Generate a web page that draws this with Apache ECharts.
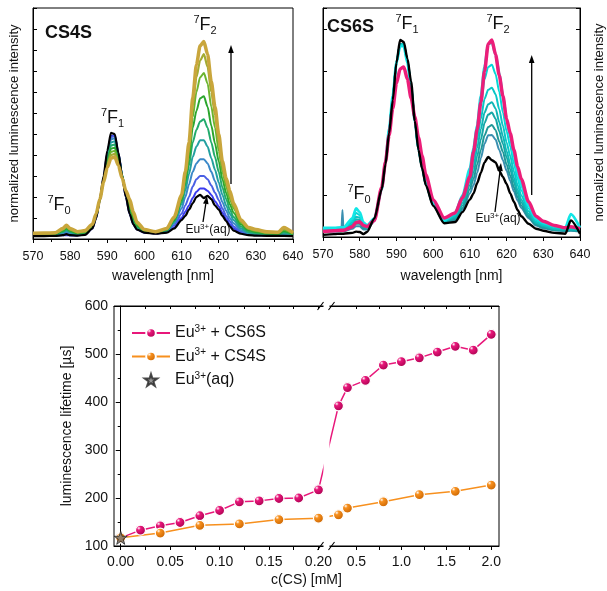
<!DOCTYPE html>
<html><head><meta charset="utf-8">
<script src="https://cdn.jsdelivr.net/npm/echarts@6/dist/echarts.min.js"></script>
<style>html,body{margin:0;padding:0;background:#fff}#c{width:607px;height:591px}</style>
</head><body><div id="c"></div>
<script>
// ---------- CS4S spectra (wavelength nm, intensity a.u.) ----------
const wl4 = [570,573,576,578,579,580,582,584,586,587,588,589,590,591,592,593,594,595,596,597,598,600,603,606,608,610,611,612,613,614,615,616,617,618,619,620,621,622,623,624,626,628,630,633,636,637.5,640];
const cs4sAq = [1.4,1.4,1.5,1.8,2.3, 1.8,1.6,2.0,5,10, 19,30,42,50.5,50, 41,30,20,12,7, 4.5,3,2.5,3,5, 9,11,14,17,20, 21,19.5,20.5,19,16, 14,11,8.5,6,4, 2.5,1.8,1.6,1.5,1.5, 1.5,1.4];
const cs4s1 = [1.6,1.6,1.7,1.8,1.8, 1.7,1.7,2.1,5,10, 18,29,41,49,49.5, 41,30,20,12,7, 4.5,3,2.6,3.2,5.5, 10,13,16,19.5,22.5, 24,24,23,21,18, 15.5,12.5,9.5,7,5, 3,2,1.8,1.6,1.6, 1.6,1.5];
const cs4s2 = [1.7,1.7,1.8,2.2,2.6, 2.2,1.9,2.3,5.2,10.5, 18.5,29,41,48.5,49, 41,30.5,20.5,12.5,7.5, 4.8,3.1,2.7,3.5,6.5, 12,16,20,25,28.5, 30,30,28.5,25.5,22, 18.5,14.5,11,8.5,6, 3.5,2.3,2,1.8,1.7, 1.8,1.7];
const cs4s3 = [1.9,1.9,2,2.7,3.3, 2.7,2.1,2.5,5.5,10.5, 18.5,28.5,40,47.5,48, 40.5,30.5,21,13,8, 5,3.2,2.8,3.8,7.5, 14.5,20,26,32,36, 38,38,36,32,27.5, 22.5,17.5,13.5,10,7.5, 4.2,2.6,2.2,1.9,1.8, 2.2,1.8];
const cs4s4 = [2,2,2.1,3.1,4, 3.1,2.3,2.7,5.7,10.8, 18.5,28,38.5,46,46.5, 40,30.5,21.5,14,8.5, 5.3,3.4,2.9,4,8, 16.5,23,31,39,44, 47,47,44,38.5,33, 27,21,16,12,9, 5,3,2.5,2,1.9, 2.6,1.9];
const cs4s5 = [2.2,2.2,2.3,3.5,4.6, 3.5,2.5,2.9,6,11, 18.5,27.5,37.5,44.5,45, 39,30.5,22,15,9.5, 5.8,3.6,3,4.2,8.5, 17.5,25.5,35,46,52, 56,57,53,46,39, 32,24.5,19,14,10.5, 6,3.5,2.8,2.3,2.1, 3.2,2.1];
const cs4s6 = [2.3,2.4,2.5,3.9,5.1, 3.9,2.8,3.1,6.2,11.2, 18.5,27.5,36.5,43,43.5, 38,30,22,15.5,10, 6.3,3.8,3.1,4.4,9, 18.5,27.5,38,53,61, 67,68,63,54,45.5, 37,28.5,22,16.5,12.5, 7,4.2,3.3,2.6,2.4, 3.8,2.3];
const cs4s7 = [2.4,2.5,2.7,4.3,5.6, 4.3,3,3.4,6.5,11.5, 18.7,27.2,35.5,41.5,42, 37,29.7,22.5,16.5,11, 7,4,3.2,4.6,9.5, 19.5,29.5,41,58,70, 77,79,74,63,53, 42,32,25,19,14.5, 7.8,4.8,3.8,2.9,2.7, 4.4,2.5];
const cs4s8 = [2.6,2.7,2.9,4.7,6.1, 4.7,3.3,3.7,6.8,11.8, 18.8,27,34.8,40,40.5, 36,29.3,22.8,17.8,12.2, 7.5,4.3,3.4,4.8,10, 20.3,31,44,63,77, 85,88,82,70,59, 46,34.5,27,21,15.8, 8.4,5.2,4.2,3.2,3, 5,2.8];
const cs4sEnd = [2.7,2.8,3,5,6.5, 5,3.5,4,7,12, 19,27,34,38.5,39, 35,29,23,19,13, 8,4.5,3.5,5,10.5, 21,32,46,67,83, 92,94,88,75,63, 50,37,29,23,17, 9,5.5,4.5,3.4,3.2, 5.5,3];

// ---------- CS6S spectra ----------
const wl6 = [570,573,575,575.3,575.6,578,579,580,581,582,584,586,587,588,589,590,591,592,593,594,595,596,597,598,600,603,606,608,610,611,612,613,614,615,616,617,618,619,620,621,622,623,624,626,628,630,633,636,637.5,640];
const cs6sAq = [0.5,0.7,0.8,0.8,0.8,1.0,1.3,1.2,0.7,1.2, 4.5,11.5,17.5,25,33,42,47.5,47,43,37.5, 28,21,16.5,12.5,7.5,3.3,3.6,6,9,10.5, 13,15.5,18,19.3,18.5,18,16,14.5,12.8,10.5, 8.5,6.5,5,3.2,2,1.5,1.0,0.8,4,0.8];
const cs6s1 = [1.2,1.3,1.4,6.5,1.4,2.0,2.6,2.6,1.8,1.8, 3.8,11.5,17.8,25.5,33.5,42,46.5,46.5,42.5,36.5, 28,21,16.5,12.5,7.6,3.5,4,6.5,10.5,12.5, 15.5,19,22.5,24.5,24.6,23.5,21,18.5,16,13.5, 11,8.8,7,4.5,2.8,2.1,1.6,1.4,1.5,1.3];
const cs6s2 = [1.4,1.4,1.5,1.5,1.5,2.4,3.2,3.2,2.1,2.0, 4.0,11.5,17.8,25.5,33.5,42,46.5,46.5,42.5,36.5, 28,21,16.5,12.6,7.7,3.6,4.3,7,11.5,14, 17.5,21,24.5,26.5,27,25.8,23,20.5,17.5,14.8, 12,9.6,7.6,4.8,3,2.3,1.7,1.5,1.6,1.4];
const cs6s3 = [1.5,1.5,1.6,1.6,1.6,2.8,3.8,3.7,2.4,2.1, 4.1,11.5,17.8,25.6,33.6,42,46.5,46.5,42.5,36.3, 28,21.2,16.7,12.7,7.8,3.7,4.6,7.6,12.5,15.5, 19.5,23.5,27.5,29.5,30,28.5,25.5,22.5,19.2,16.3, 13.2,10.5,8.3,5.2,3.2,2.5,1.8,1.6,1.7,1.5];
const cs6s4 = [1.6,1.6,1.7,1.7,1.7,3.1,4.3,4.2,2.7,2.2, 4.2,11.5,17.9,25.7,33.7,42,46.5,46.4,42.4,36.2, 28,21.3,16.8,12.8,7.9,3.8,4.9,8.2,13.3,17, 21.5,26,30,32,32.5,31,27.7,24.3,20.7,17.6, 14.3,11.3,9,5.6,3.4,2.7,1.9,1.7,1.8,1.6];
const cs6s5 = [1.8,1.8,1.9,1.9,1.9,3.5,4.9,4.7,3.0,2.4, 4.3,11.5,18,25.8,33.8,42,46.3,46.3,42.3,36.1, 28,21.3,16.8,12.9,7.9,3.9,5.2,8.8,14.5,18.7, 23.5,28.5,33.3,35.5,36,34.4,30.8,26.8,22.8,19.5, 15.8,12.5,10,6.2,3.7,2.9,2.1,1.9,2.0,1.8];
const cs6s6 = [2.0,2.0,2.1,2.1,2.1,4.0,5.8,5.3,3.2,2.6, 4.4,11.5,18,26,34,42,46.2,46.2,42.2,36, 28,21.4,16.9,13,8,4,5.5,9.4,15.7,20.5, 26,31.5,38,41,41.5,39.3,35,30,25.5,21.8, 17.7,14,11.2,6.9,4.1,3.2,2.4,2.1,2.2,2.0];
const cs6s7 = [2.2,2.2,2.3,2.3,2.3,4.5,6.9,6,3.5,2.8, 4.5,11.5,18,26,34,42,46,46,42,36, 28,21.5,17,13,8,4.1,5.8,10,16.5,21.5, 27,34,41,46.5,47,44,39.5,34,28.5,24, 19.5,15.5,12.5,7.5,4.5,3.5,2.6,2.3,5.5,2.2];
const cs6sEnd = [1.3,1.5,1.6,1.6,1.6,2.5,3.5,3.7,2.8,2.5, 4,12,18,24.5,31,37,40.5,41,38,33.5, 29,24,19.5,15,9,4.6,5.8,9.5,14.5,20.5, 26,32.5,40,46.5,47.5,44,39,34,28.5,25, 21,17,14,8.5,5,3.8,2.8,2.2,2.5,2];

// ---------- luminescence lifetimes ----------
const concCS6S = [0,0.02,0.04,0.06,0.08,0.10,0.12,0.14,0.16,0.18,0.20,0.3,0.4,0.6,0.8,1.0,1.2,1.4,1.6,1.8,2.0];
const lifeCS6S = [117,133,142,149,163,174,192,194,199,200,217,392,430,445,477,484,492,504,516,508,541];
const concCS4S = [0,0.04,0.08,0.12,0.16,0.20,0.3,0.4,0.8,1.2,1.6,2.0];
const lifeCS4S = [117,127,143,146,155,158,165,179,192,207,214,227];
const concAq = [0];
const lifeAq = [117];

// tick labels of the broken concentration axis
const xMajorLeft = [0,0.05,0.10,0.15,0.20];
const xMajorRight = [0.5,1.0,1.5,2.0];
const xMinorLeft = [0.025,0.075,0.125,0.175];
const xMinorRight = [0.75,1.25,1.75];
const yTicksLife = [100,200,300,400,500,600];

// ---------- helpers ----------
const FONT = '"Liberation Sans", Arial, Helvetica, sans-serif';
const PINK = '#e8177a', ORANGE = '#f7901e';
const BREAK_AT = 0.2, RIGHT_T0 = 0.2384, RIGHT_X0 = 0.5, RIGHT_K = 0.0909;
function toAxis(x){ return x <= BREAK_AT + 1e-9 ? x : RIGHT_T0 + (x - RIGHT_X0) * RIGHT_K; }
const labelMap = {};
xMajorLeft.forEach(v => labelMap[toAxis(v).toFixed(5)] = v.toFixed(2));
xMajorRight.forEach(v => labelMap[toAxis(v).toFixed(5)] = v.toFixed(1));
const majorT = xMajorLeft.concat(xMajorRight).map(toAxis);
const allT = majorT.concat(xMinorLeft.map(toAxis), xMinorRight.map(toAxis));

function pairs(xs, ys){ return xs.map((x,i)=>[x, ys[i]]); }
function spec(name, xs, ys, color, w, xi, yi, z){
  return {name, type:'line', xAxisIndex:xi, yAxisIndex:yi, data:pairs(xs,ys), showSymbol:false, symbol:'none',
    smooth:0.25, smoothMonotone:'x', lineStyle:{color, width:w}, silent:true, z:z||2};
}
function ball(c, dark){
  return new echarts.graphic.RadialGradient(0.35,0.32,0.7,[{offset:0,color:'#ffffff'},{offset:0.25,color:c},{offset:1,color:dark}]);
}
const richLbl = {
  s:{fontSize:11, fontFamily:FONT, fill:'#111', verticalAlign:'top', lineHeight:11},
  m:{fontSize:18, fontFamily:FONT, fill:'#111', lineHeight:22},
  b:{fontSize:11, fontFamily:FONT, fill:'#111', verticalAlign:'bottom', lineHeight:11}
};
function level(n, x, y){
  return {type:'text', x, y, z:20, style:{text:'{s|7}{m|F}{b|'+n+'}', rich:richLbl, fontSize:18, lineHeight:22, fontFamily:FONT, fill:'#111',
    align:'center', textAlign:'center', verticalAlign:'middle', textVerticalAlign:'middle'}};
}
function euAq(x, y){
  return {type:'text', x, y, z:20, style:{text:'Eu{s|3+}(aq)', fontSize:12, lineHeight:14, fontFamily:FONT, fill:'#111',
    rich:{s:{fontSize:8, fontFamily:FONT, fill:'#111', verticalAlign:'top', lineHeight:8}},
    align:'center', textAlign:'center', verticalAlign:'middle', textVerticalAlign:'middle'}};
}
function bold(t, x, y){
  return {type:'text', x, y, z:20, style:{text:t, fontSize:18, fontWeight:'bold', fontFamily:FONT, fill:'#111',
    align:'left', textAlign:'left', verticalAlign:'middle', textVerticalAlign:'middle'}};
}
function arrow(x1,y1,x2,y2){
  const dx=x2-x1, dy=y2-y1, L=Math.hypot(dx,dy), ux=dx/L, uy=dy/L, h=8, w=2.8;
  const bx=x2-ux*h, by=y2-uy*h;
  return [
    {type:'line', z:20, shape:{x1, y1, x2:bx, y2:by}, style:{stroke:'#000', lineWidth:1.3}},
    {type:'polygon', z:20, shape:{points:[[x2,y2],[bx-uy*w, by+ux*w],[bx+uy*w, by-ux*w]]}, style:{fill:'#000'}}
  ];
}
const STAR = 'path://M50,2 L61,36 L97,36 L68,57 L79,92 L50,71 L21,92 L32,57 L3,36 L39,36 Z';

const axisText = {color:'#111', fontFamily:FONT};
const lineBlack = {lineStyle:{color:'#000', width:1}};

const chart = echarts.init(document.getElementById('c'), null, {renderer:'canvas'});
chart.setOption({
  animation:false,
  backgroundColor:'#fff',
  textStyle:{fontFamily:FONT},
  grid:[
    {left:33, top:8, width:260, height:231, show:true, borderColor:'#000', borderWidth:1, backgroundColor:'transparent'},
    {left:323, top:8, width:261, height:229, show:true, borderColor:'#000', borderWidth:1, backgroundColor:'transparent'},
    {left:114, top:306, width:385, height:240, show:true, borderColor:'#000', borderWidth:1, backgroundColor:'transparent'}
  ],
  xAxis:[
    {gridIndex:0, type:'value', min:570, max:640, interval:10, axisLine:lineBlack,
     axisTick:{inside:false, length:4, lineStyle:{color:'#000'}}, minorTick:{show:true, splitNumber:2, length:3, lineStyle:{color:'#000'}},
     splitLine:{show:false}, axisLabel:Object.assign({fontSize:12.5, margin:11}, axisText),
     name:'wavelength [nm]', nameLocation:'middle', nameGap:30, nameTextStyle:Object.assign({fontSize:14}, axisText)},
    {gridIndex:1, type:'value', min:570, max:640, interval:10, axisLine:lineBlack,
     axisTick:{inside:false, length:4, lineStyle:{color:'#000'}}, minorTick:{show:true, splitNumber:2, length:3, lineStyle:{color:'#000'}},
     splitLine:{show:false}, axisLabel:Object.assign({fontSize:12.5, margin:11}, axisText),
     name:'wavelength [nm]', nameLocation:'middle', nameGap:32, nameTextStyle:Object.assign({fontSize:14}, axisText)},
    {gridIndex:2, type:'value', min:-0.0068, max:0.3826, position:'bottom', axisLine:lineBlack,
     axisTick:{inside:false, length:4, customValues:allT, lineStyle:{color:'#000'}},
     splitLine:{show:false},
     axisLabel:Object.assign({fontSize:14, margin:9, customValues:majorT, formatter:v => labelMap[Number(v).toFixed(5)] || ''}, axisText),
     name:'c(CS) [mM]', nameLocation:'middle', nameGap:27, nameTextStyle:Object.assign({fontSize:14}, axisText)},
    {gridIndex:2, type:'value', min:-0.0068, max:0.3826, position:'top', axisLine:lineBlack,
     axisTick:{inside:true, length:3, customValues:allT, lineStyle:{color:'#000'}},
     splitLine:{show:false}, axisLabel:{show:false}}
  ],
  yAxis:[
    {gridIndex:0, type:'value', min:0, max:110, interval:10, axisLine:lineBlack,
     axisTick:{inside:true, length:4, lineStyle:{color:'#000'}}, splitLine:{show:false}, axisLabel:{show:false},
     name:'normalized luminescence intensity', nameLocation:'middle', nameGap:12, nameRotate:90, nameTextStyle:Object.assign({fontSize:13}, axisText)},
    {gridIndex:1, type:'value', min:0, max:55.2, interval:10, position:'left', axisLine:lineBlack,
     axisTick:{inside:true, length:4, lineStyle:{color:'#000'}}, splitLine:{show:false}, axisLabel:{show:false}},
    {gridIndex:1, type:'value', min:0, max:55.2, interval:10, position:'right', axisLine:lineBlack,
     axisTick:{inside:true, length:4, lineStyle:{color:'#000'}}, splitLine:{show:false}, axisLabel:{show:false},
     name:'normalized luminescence intensity', nameLocation:'middle', nameGap:13, nameRotate:90, nameTextStyle:Object.assign({fontSize:13}, axisText)},
    {gridIndex:2, type:'value', min:100, max:600, interval:100, axisLine:lineBlack,
     axisTick:{inside:false, length:5, lineStyle:{color:'#000'}}, minorTick:{show:true, splitNumber:2, length:3, lineStyle:{color:'#000'}},
     splitLine:{show:false}, axisLabel:Object.assign({fontSize:14, margin:6}, axisText),
     name:'luminescence lifetime [µs]', nameLocation:'middle', nameGap:34, nameRotate:90, nameTextStyle:Object.assign({fontSize:14}, axisText)}
  ],
  legend:{
    data:['CS6S','CS4S','aq'], orient:'vertical', left:126, top:319, itemWidth:38, itemHeight:12, itemGap:5.5,
    selectedMode:false,
    formatter: n => n === 'aq' ? 'Eu{sup|3+}(aq)' : 'Eu{sup|3+} + ' + n,
    textStyle:{fontSize:16, lineHeight:18, color:'#111', fontFamily:FONT,
      rich:{sup:{fontSize:10, lineHeight:10, verticalAlign:'top', color:'#111', fontFamily:FONT}}}
  },
  series:[
    spec('s4_1', wl4, cs4s1, '#3b3bef', 2, 0, 0),
    spec('s4_2', wl4, cs4s2, '#4a5fe4', 2, 0, 0),
    spec('s4_3', wl4, cs4s3, '#3a88c8', 2, 0, 0),
    spec('s4_4', wl4, cs4s4, '#23a0a0', 2, 0, 0),
    spec('s4_5', wl4, cs4s5, '#22ab6c', 2, 0, 0),
    spec('s4_6', wl4, cs4s6, '#2ca62e', 2, 0, 0),
    spec('s4_7', wl4, cs4s7, '#6cb42f', 2, 0, 0),
    spec('s4_8', wl4, cs4s8, '#a3ab32', 2.2, 0, 0),
    spec('s4_aq', wl4, cs4sAq, '#000000', 2.2, 0, 0),
    spec('s4_end', wl4, cs4sEnd, '#c9a63c', 3.5, 0, 0),

    spec('s6_1', wl6, cs6s1, '#3a8fb0', 2, 1, 1),
    spec('s6_2', wl6, cs6s2, '#1f9797', 2, 1, 1),
    spec('s6_3', wl6, cs6s3, '#16a6a6', 2, 1, 1),
    spec('s6_4', wl6, cs6s4, '#10b5b5', 2, 1, 1),
    spec('s6_5', wl6, cs6s5, '#0ac6c6', 2, 1, 1),
    spec('s6_6', wl6, cs6s6, '#05d6d6', 2, 1, 1),
    spec('s6_7', wl6, cs6s7, '#12e6e6', 2.8, 1, 1),
    spec('s6_end', wl6, cs6sEnd, '#ec1e79', 3.5, 1, 1),
    spec('s6_aq', wl6, cs6sAq, '#000000', 2.4, 1, 1),

    {name:'CS6S', type:'line', xAxisIndex:2, yAxisIndex:3, data:pairs(concCS6S.map(toAxis), lifeCS6S),
     symbol:'circle', symbolSize:10, lineStyle:{color:PINK, width:1.5},
     itemStyle:{color:ball(PINK,'#a8004f'), borderColor:'#fff', borderWidth:1.2}, z:3},
    {name:'CS4S', type:'line', xAxisIndex:2, yAxisIndex:3, data:pairs(concCS4S.map(toAxis), lifeCS4S),
     symbol:'circle', symbolSize:10, lineStyle:{color:ORANGE, width:1.5},
     itemStyle:{color:ball(ORANGE,'#c96400'), borderColor:'#fff', borderWidth:1.2}, z:3},
    {name:'aq', type:'scatter', xAxisIndex:2, yAxisIndex:3, data:pairs(concAq.map(toAxis), lifeAq),
     symbol:STAR, symbolSize:13, itemStyle:{color:'#7a7a7a', borderColor:'#222', borderWidth:1}, z:5}
  ],
  graphic:[
    // axis break gap and marks
    {type:'rect', z:30, shape:{x:323.5, y:300, width:6, height:254}, style:{fill:'#fff'}},
    {type:'line', z:31, shape:{x1:317.5, y1:310, x2:323.5, y2:302}, style:{stroke:'#000', lineWidth:1.1}},
    {type:'line', z:31, shape:{x1:328.5, y1:310, x2:334.5, y2:302}, style:{stroke:'#000', lineWidth:1.1}},
    {type:'line', z:31, shape:{x1:317.5, y1:550, x2:323.5, y2:542}, style:{stroke:'#000', lineWidth:1.1}},
    {type:'line', z:31, shape:{x1:328.5, y1:550, x2:334.5, y2:542}, style:{stroke:'#000', lineWidth:1.1}},
    // CS4S panel
    bold('CS4S', 45, 33.5),
    level('0', 59, 205),
    level('1', 112.5, 118),
    level('2', 205, 25),
    euAq(208, 230),
    ...arrow(203, 222, 207, 196),
    ...arrow(231, 184, 231, 45),
    // CS6S panel
    bold('CS6S', 327, 27.5),
    level('0', 359, 194),
    level('1', 407, 24),
    level('2', 498, 24),
    euAq(498, 219),
    ...arrow(495, 212, 501, 163),
    ...arrow(531.7, 195, 531.7, 55)
  ]
});
</script></body></html>
